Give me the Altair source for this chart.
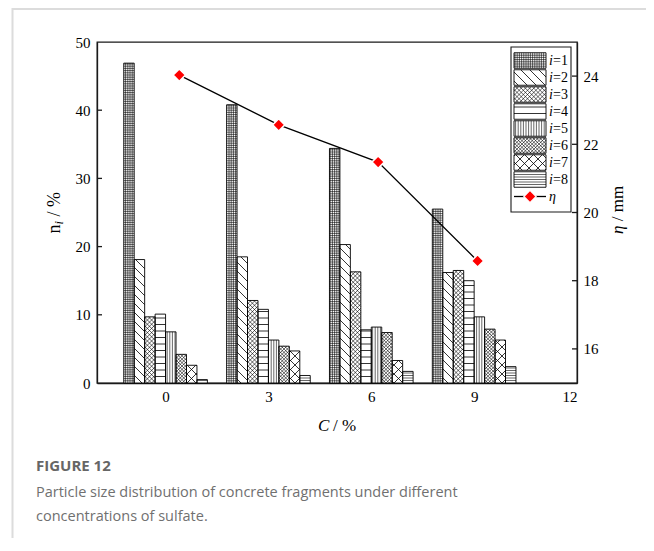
import altair as alt
import numpy as np
import pandas as pd

# ---------------- values ----------------
concentrations = [0, 3, 6, 9]                    # C / %
size_classes = [1, 2, 3, 4, 5, 6, 7, 8]          # i
n_c0 = [46.9, 18.1, 9.7, 10.1, 7.5, 4.2, 2.6, 0.5]
n_c3 = [40.8, 18.5, 12.1, 10.8, 6.3, 5.4, 4.7, 1.1]
n_c6 = [34.4, 20.3, 16.3, 7.8, 8.2, 7.4, 3.3, 1.7]
n_c9 = [25.5, 16.2, 16.5, 15.0, 9.7, 7.9, 6.3, 2.4]
eta_x = [0.4, 3.3, 6.2, 9.1]
eta_mm = [24.03, 22.57, 21.48, 18.58]

x_ticks = [0, 3, 6, 9, 12]
n_ticks = [0, 10, 20, 30, 40, 50]
eta_ticks = [16, 18, 20, 22, 24]
caption_title = "FIGURE 12"
caption_lines = ["Particle size distribution of concrete fragments under different",
                 "concentrations of sulfate."]

# ---------------- layout / style ----------------
W, H = 480, 341
X_DOM = [-2, 12]
N_DOM = [0, 50]
ETA_DOM = [15, 25]
BAR_W = 0.305
PX_X = W / (X_DOM[1] - X_DOM[0])
PX_Y = H / (N_DOM[1] - N_DOM[0])
SERIF = "Liberation Serif"
SANS = "Open Sans"
INK = "#1a1a1a"

# pattern kind, spacing (px), line width
patterns = {1: ("grid", 2.2, 0.6), 2: ("bs", 9.0, 0.8), 3: ("x", 4.2, 0.6),
            4: ("h", 6.5, 0.8), 5: ("v", 2.6, 0.6), 6: ("x", 3.4, 0.6),
            7: ("x", 9.0, 0.8), 8: ("h", 2.5, 0.6)}


def hatch(X0, X1, Y0, Y1, kind, d):
    """hatch segments clipped to a rectangle, in a y-up pixel frame"""
    segs = []
    if kind in ("h", "grid"):
        for y in np.arange(np.ceil(Y0 / d) * d, Y1, d):
            if y - Y0 > 0.4 and Y1 - y > 0.4:
                segs.append((X0, y, X1, y))
    if kind in ("v", "grid"):
        for x in np.arange(np.ceil(X0 / d) * d, X1, d):
            if x - X0 > 0.4 and X1 - x > 0.4:
                segs.append((x, Y0, x, Y1))
    if kind in ("bs", "x"):          # "\"  : y = -x + c
        for c in np.arange(np.ceil((X0 + Y0) / d) * d, X1 + Y1, d):
            lo, hi = max(X0, c - Y1), min(X1, c - Y0)
            if hi - lo > 0.3:
                segs.append((lo, c - lo, hi, c - hi))
    if kind in ("fs", "x"):          # "/"  : y = x + c
        for c in np.arange(np.ceil((Y0 - X1) / d) * d, Y1 - X0, d):
            lo, hi = max(X0, Y0 - c), min(X1, Y1 - c)
            if hi - lo > 0.3:
                segs.append((lo, lo + c, hi, hi + c))
    return segs


# ---------------- bar table + hatch table (data coordinates) ----------------
bar_rows, hatch_rows = [], []
for c, vals in zip(concentrations, [n_c0, n_c3, n_c6, n_c9]):
    for k, (i, v) in enumerate(zip(size_classes, vals)):
        x0 = c + (k - 4) * BAR_W
        x1 = x0 + BAR_W
        bar_rows.append({"x0": x0, "x1": x1, "y0": 0.0, "y1": v, "i": i})
        kind, d, sw = patterns[i]
        X0, X1 = (x0 - X_DOM[0]) * PX_X, (x1 - X_DOM[0]) * PX_X
        for (xa, ya, xb, yb) in hatch(X0, X1, 0.0, v * PX_Y, kind, d):
            hatch_rows.append({"xa": xa / PX_X + X_DOM[0], "ya": ya / PX_Y,
                               "xb": xb / PX_X + X_DOM[0], "yb": yb / PX_Y, "sw": sw})
bars_df = pd.DataFrame(bar_rows)
hatch_df = pd.DataFrame(hatch_rows)
eta_df = pd.DataFrame({"x": eta_x, "eta": eta_mm})

x_scale = alt.Scale(domain=X_DOM, nice=False, zero=False)
yl_scale = alt.Scale(domain=N_DOM, nice=False)
yr_scale = alt.Scale(domain=ETA_DOM, nice=False, zero=False)

bars = alt.Chart(bars_df).mark_rect(fill="white", stroke="none").encode(
    x=alt.X("x0:Q", scale=x_scale, title=None,
            axis=alt.Axis(values=x_ticks, ticks=False, tickSize=0, labelPadding=6,
                          labelFont=SERIF, labelFontSize=15, labelColor="black",
                          grid=False, title=None)),
    x2="x1:Q",
    y=alt.Y("y0:Q", scale=yl_scale, title=None,
            axis=alt.Axis(values=n_ticks, ticks=False, tickSize=0, labelPadding=7,
                          labelFont=SERIF, labelFontSize=15, labelColor="black",
                          grid=False, title=None)),
    y2="y1:Q",
)
hatch_layer = alt.Chart(hatch_df).mark_rule(color="black").encode(
    x=alt.X("xa:Q", scale=x_scale, title=None), x2="xb:Q",
    y=alt.Y("ya:Q", scale=yl_scale, title=None), y2="yb:Q",
    strokeWidth=alt.StrokeWidth("sw:Q", scale=None),
)
outline = alt.Chart(bars_df).mark_rect(fill=None, filled=False, stroke="black", strokeWidth=0.9).encode(
    x=alt.X("x0:Q", scale=x_scale, title=None), x2="x1:Q",
    y=alt.Y("y0:Q", scale=yl_scale, title=None), y2="y1:Q",
)
left_ticks = alt.Chart(pd.DataFrame({"v": n_ticks[1:-1]})).mark_rule(color=INK, strokeWidth=1.3).encode(
    y=alt.Y("v:Q", scale=yl_scale, title=None), x=alt.value(0), x2=alt.value(5)
)
left_part = alt.layer(bars, hatch_layer, outline, left_ticks)

eta_line = alt.Chart(eta_df).mark_line(color="black", strokeWidth=1.3).encode(
    x=alt.X("x:Q", scale=x_scale, axis=None, title=None),
    y=alt.Y("eta:Q", scale=yr_scale, title=None,
            axis=alt.Axis(orient="right", values=eta_ticks, ticks=False, tickSize=0,
                          labelPadding=6, labelFont=SERIF, labelFontSize=15,
                          labelColor="black", grid=False, title=None)),
)
eta_pts = alt.Chart(eta_df).mark_point(shape="diamond", filled=True, fill="#ff0000", size=150,
                                       stroke="white", strokeWidth=1.5, opacity=1).encode(
    x=alt.X("x:Q", scale=x_scale, axis=None, title=None),
    y=alt.Y("eta:Q", scale=yr_scale, title=None),
)
right_ticks = alt.Chart(pd.DataFrame({"v": eta_ticks})).mark_rule(color=INK, strokeWidth=1.3).encode(
    y=alt.Y("v:Q", scale=yr_scale, title=None), x=alt.value(W - 5), x2=alt.value(W)
)
right_part = alt.layer(eta_line, eta_pts, right_ticks)

# ---------------- legend (pixel frame of the plot area) ----------------
px_xs = alt.Scale(domain=[0, W], range=[0, W], nice=False, zero=False)
px_ys = alt.Scale(domain=[0, H], range=[0, H], nice=False, zero=False)
LG_X0, LG_X1, LG_Y0, LG_Y1 = 414, 474, 5, 170
SW_X0, SW_X1, SW_C0, SW_STEP, SW_H = 417, 449, 18.5, 17.0, 15.5
LAB_X = 452

box_df = pd.DataFrame([{"x0": LG_X0, "x1": LG_X1, "y0": LG_Y0, "y1": LG_Y1}])
sw_rows, lh_rows = [], []
for k, i in enumerate(size_classes):
    yc = SW_C0 + SW_STEP * k
    sw_rows.append({"x0": SW_X0, "x1": SW_X1, "y0": yc - SW_H / 2, "y1": yc + SW_H / 2,
                    "yc": yc, "lab": "=" + str(i)})
    kind, d, sw = patterns[i]
    for (xa, ya, xb, yb) in hatch(SW_X0, SW_X1, -(yc + SW_H / 2), -(yc - SW_H / 2), kind, d):
        lh_rows.append({"xa": xa, "ya": -ya, "xb": xb, "yb": -yb, "sw": sw})
sw_df = pd.DataFrame(sw_rows)
lh_df = pd.DataFrame(lh_rows)
eta_leg_y = SW_C0 + SW_STEP * len(size_classes)
eta_leg = pd.DataFrame([{"x0": SW_X0, "x1": SW_X1, "xm": (SW_X0 + SW_X1) / 2, "y": eta_leg_y}])

def PX(f):
    return alt.X(f, scale=px_xs, axis=None, title=None)

def PY(f):
    return alt.Y(f, scale=px_ys, axis=None, title=None)

lg_box = alt.Chart(box_df).mark_rect(fill="white", stroke=INK, strokeWidth=1.1).encode(
    x=PX("x0:Q"), x2="x1:Q", y=PY("y0:Q"), y2="y1:Q")
lg_sw = alt.Chart(sw_df).mark_rect(fill="white", stroke="none").encode(
    x=PX("x0:Q"), x2="x1:Q", y=PY("y0:Q"), y2="y1:Q")
lg_hatch = alt.Chart(lh_df).mark_rule(color="black").encode(
    x=PX("xa:Q"), x2="xb:Q", y=PY("ya:Q"), y2="yb:Q",
    strokeWidth=alt.StrokeWidth("sw:Q", scale=None))
lg_sw_out = alt.Chart(sw_df).mark_rect(filled=False, fill=None, stroke="black", strokeWidth=0.9).encode(
    x=PX("x0:Q"), x2="x1:Q", y=PY("y0:Q"), y2="y1:Q")
lg_i = alt.Chart(sw_df).mark_text(text="i", font=SERIF, fontStyle="italic", fontSize=14,
                                  align="left", baseline="middle", color="black").encode(
    x=PX("x0:Q"), y=PY("yc:Q"), xOffset=alt.value(LAB_X - SW_X0))
lg_lab = alt.Chart(sw_df).mark_text(font=SERIF, fontSize=14, align="left",
                                    baseline="middle", color="black").encode(
    x=PX("x0:Q"), y=PY("yc:Q"), text="lab:N", xOffset=alt.value(LAB_X - SW_X0 + 4))
lg_eta_line = alt.Chart(eta_leg).mark_rule(color="black", strokeWidth=1.3).encode(
    x=PX("x0:Q"), x2="x1:Q", y=PY("y:Q"))
lg_eta_pt = alt.Chart(eta_leg).mark_point(shape="diamond", filled=True, fill="#ff0000", size=150,
                                          stroke="white", strokeWidth=1.2, opacity=1).encode(
    x=PX("xm:Q"), y=PY("y:Q"))
lg_eta_txt = alt.Chart(eta_leg).mark_text(text="η", font=SERIF, fontStyle="italic", fontSize=14,
                                          align="left", baseline="middle", color="black").encode(
    x=PX("x1:Q"), y=PY("y:Q"), xOffset=alt.value(LAB_X - SW_X1))
legend_part = alt.layer(lg_box, lg_sw, lg_hatch, lg_sw_out, lg_i, lg_lab,
                        lg_eta_line, lg_eta_pt, lg_eta_txt)

# ---------------- free text: axis titles, caption, card border ----------------
one = alt.Data(values=[{"k": 1}])

def txt(s, x, y, **kw):
    base = dict(font=SERIF, fontSize=18, align="left", baseline="alphabetic", color="black")
    base.update(kw)
    return alt.Chart(one).mark_text(text=s, **base).encode(x=alt.value(x), y=alt.value(y))

texts = [
    # left title  n_i / %
    txt("n", -37.5, 191.5, angle=270),
    txt("i", -34.0, 182.5, angle=270, fontStyle="italic", fontSize=12.5),
    txt("/ %", -37.5, 174.5, angle=270),
    # right title  η / mm
    txt("η", 526.3, 192, angle=270, fontStyle="italic", fontSize=17),
    txt("/ mm", 526.3, 179.3, angle=270, fontSize=17),
    # x title  C / %
    txt("C", 221, 389, fontStyle="italic", fontSize=17),
    txt("/ %", 236, 389, fontSize=17),
    # caption
    txt(caption_title, -61, 424, font=SANS, fontSize=15, fontWeight="bold",
        color="#666666", baseline="middle"),
    txt(caption_lines[0], -61, 451, font=SANS, fontSize=14.5, color="#707070", baseline="middle"),
    txt(caption_lines[1], -61, 475, font=SANS, fontSize=14.5, color="#707070", baseline="middle"),
]
card_left = alt.Chart(one).mark_rule(color="#dcdcdc", strokeWidth=2).encode(
    x=alt.value(-84.5), y=alt.value(-34), y2=alt.value(510))
card_top = alt.Chart(one).mark_rule(color="#dcdcdc", strokeWidth=2).encode(
    x=alt.value(-84.5), x2=alt.value(560), y=alt.value(-33))

chart = alt.layer(
    card_left, card_top, left_part, right_part, legend_part, *texts
).resolve_scale(x="independent", y="independent").properties(
    width=W, height=H,
    autosize=alt.AutoSizeParams(type="none"),
    padding={"left": 89, "top": 34, "right": 69, "bottom": 155},
).configure_view(stroke=INK, strokeWidth=1.3).configure_axis(
    domainColor=INK, domainWidth=1.3, grid=False
)

chart.save("out.html", embed_options={"renderer": "svg", "actions": False})
